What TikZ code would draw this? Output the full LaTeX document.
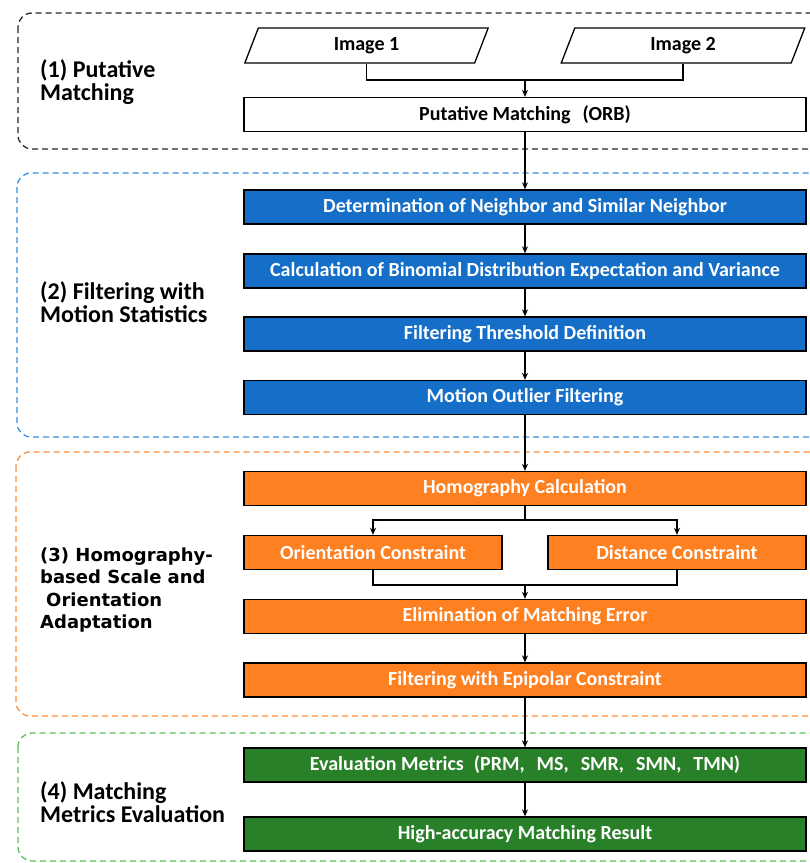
\documentclass[tikz,border=0pt]{standalone}
\usepackage{fontspec}
\usepackage{tikz}
\usetikzlibrary{shapes.geometric,arrows.meta}
\newfontfamily\boxfont{Carlito}
\newfontfamily\widefont{DejaVu Sans}
\definecolor{stepblue}{RGB}{21,111,200}
\definecolor{steporange}{RGB}{255,128,32}
\definecolor{stepgreen}{RGB}{40,128,40}
\definecolor{frameblue}{RGB}{58,142,228}
\definecolor{frameorange}{RGB}{255,140,56}
\definecolor{framegreen}{RGB}{92,190,92}

\tikzset{
  stepbox/.style={draw=black, line width=1.3pt, minimum width=562pt,
    minimum height=34pt, inner sep=0pt, text=white,
    font=\boxfont\bfseries\fontsize{20}{24}\selectfont},
  imagebox/.style={trapezium, trapezium left angle=76, trapezium right angle=104,
    trapezium stretches=true, draw=black, line width=1.3pt, fill=white,
    minimum width=245pt, minimum height=35pt, inner sep=0pt,
    font=\boxfont\bfseries\fontsize{20}{24}\selectfont},
  stagelabel/.style={anchor=west, align=left, inner sep=0pt,
    font=\boxfont\bfseries\fontsize{24}{23}\selectfont},
  stageframe/.style={dashed, dash pattern=on 6pt off 4pt, line width=1.3pt,
    rounded corners=14pt},
  flow/.style={-{Stealth[length=7pt,width=6pt]}, line width=1.3pt},
  link/.style={line width=1.3pt}
}

\begin{document}
\begin{tikzpicture}[x=1pt, y=-1pt]

\useasboundingbox (0,0) rectangle (810,863);
\clip (0,0) rectangle (810,863);

% Cadres des etapes
\draw[stageframe, black!85]      (18,13)  rectangle (840,149);
\draw[stageframe, frameblue]     (17,173) rectangle (840,437);
\draw[stageframe, frameorange]   (16,452) rectangle (840,716);
\draw[stageframe, framegreen]    (18,733) rectangle (840,861);

% Titres des etapes
\node[stagelabel] (lab1) at (40,82)  {(1) Putative\\Matching};
\node[stagelabel] (lab2) at (40,302) {(2) Filtering with\\Motion Statistics};
\node[stagelabel, font=\widefont\bfseries\fontsize{18}{22.5}\selectfont]
  (lab3) at (40,590) {(3) Homography-\\based Scale and\\\hspace{6pt}Orientation\\Adaptation};
\node[stagelabel] (lab4) at (40,802) {(4) Matching\\Metrics Evaluation};

% (1) Appariement
\node[imagebox] (img1) at (366.5,45.5) {Image 1};
\node[imagebox] (img2) at (683,45.5)   {Image 2};
\node[stepbox, fill=white, text=black] (orb) at (525,114.5)
  {Putative Matching\hspace{12pt}(ORB)};

% (2) Statistiques de mouvement
\node[stepbox, fill=stepblue] (neigh) at (525,207)   {Determination of Neighbor and Similar Neighbor};
\node[stepbox, fill=stepblue] (binom) at (525,271)   {Calculation of Binomial Distribution Expectation and Variance};
\node[stepbox, fill=stepblue] (thres) at (525,334)   {Filtering Threshold Definition};
\node[stepbox, fill=stepblue] (outl)  at (525,397.5) {Motion Outlier Filtering};

% (3) Homographie
\node[stepbox, fill=steporange] (homo) at (525,488.5) {Homography Calculation};
\node[stepbox, fill=steporange, minimum width=258pt] (orient) at (373,552.5) {Orientation Constraint};
\node[stepbox, fill=steporange, minimum width=258pt] (dist)   at (677,552.5) {Distance Constraint};
\node[stepbox, fill=steporange] (elim) at (525,616.5) {Elimination of Matching Error};
\node[stepbox, fill=steporange] (epi)  at (525,680)   {Filtering with Epipolar Constraint};

% (4) Evaluation
\node[stepbox, fill=stepgreen] (eval) at (525,765) {Evaluation Metrics\hspace{10pt}(PRM,\hspace{12pt}MS,\hspace{12pt}SMR,\hspace{12pt}SMN,\hspace{12pt}TMN)};
\node[stepbox, fill=stepgreen] (res)  at (525,834) {High-accuracy Matching Result};

% Jonctions
\coordinate (jin)    at (525,80);
\coordinate (jsplit) at (525,520);
\coordinate (jmerge) at (525,585);

% Connexions
\draw[link] (img1.south) |- (jin) -| (img2.south);
\draw[flow] (jin) -- (orb.north);
\draw[flow] (orb.south) -- (neigh.north);
\draw[flow] (neigh) -- (binom);
\draw[flow] (binom) -- (thres);
\draw[flow] (thres) -- (outl);
\draw[flow] (outl.south) -- (homo.north);
\draw[link] (homo.south) -- (jsplit);
\draw[flow] (jsplit) -| (orient.north);
\draw[flow] (jsplit) -| (dist.north);
\draw[link] (orient.south) |- (jmerge) -| (dist.south);
\draw[flow] (jmerge) -- (elim.north);
\draw[flow] (elim) -- (epi);
\draw[flow] (epi.south) -- (eval.north);
\draw[flow] (eval) -- (res);

\end{tikzpicture}
\end{document}
